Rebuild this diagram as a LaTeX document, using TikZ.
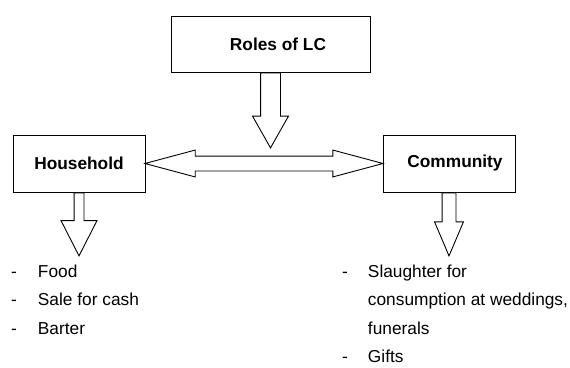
\documentclass[tikz,border=0pt]{standalone}
\usepackage{fontspec}
\setmainfont{Liberation Sans}
\usetikzlibrary{shapes.arrows,calc}

\tikzset{
  box/.style={draw, line width=0.9pt, inner sep=0pt, font=\fontsize{17.3}{20}\selectfont\bfseries},
  blockarrow/.style={draw, line width=0.9pt},
  downarrow/.style={blockarrow, single arrow, shape border rotate=270, anchor=tail},
  itemlist/.style={anchor=base west, inner sep=0pt, font=\fontsize{17.3}{28.5}\selectfont}
}

\begin{document}
\begin{tikzpicture}[x=1pt,y=-1pt]
\useasboundingbox (0,0) rectangle (570,367);

\node[box, minimum width=199, minimum height=56] (roles) at (270.5,44) {\hspace*{15pt}Roles of LC};
\node[box, minimum width=132, minimum height=57] (household) at (79,163.5) {Household};
\node[box, minimum width=132, minimum height=57] (community) at (449,163.5) {\hspace*{12pt}Community};

% block arrows
\node[downarrow, inner sep=9.5, minimum height=75, single arrow head extend=8, single arrow tip angle=59] (rolesarrow) at (roles.south) {};
\node[downarrow, inner sep=4.5, minimum height=63, single arrow head extend=13, single arrow tip angle=54] (householdarrow) at (household.south) {};
\node[downarrow, inner sep=6.5, minimum height=63, single arrow head extend=7.5, single arrow tip angle=46] (communityarrow) at (community.south) {};
\node[blockarrow, double arrow, inner sep=7, minimum height=238, double arrow head extend=6, double arrow tip angle=30] (link) at ($(household.east)!0.5!(community.west)$) {};

% lists
\node[itemlist] (householduses) at (11,277) {\begin{tabular}[t]{@{}l@{\hspace{21pt}}l@{}}
- & Food\\
- & Sale for cash\\
- & Barter
\end{tabular}};
\node[itemlist] (communityuses) at (342,277) {\begin{tabular}[t]{@{}l@{\hspace{20pt}}l@{}}
- & Slaughter for\\
  & consumption at weddings,\\
  & funerals\\
- & Gifts
\end{tabular}};
\end{tikzpicture}
\end{document}
